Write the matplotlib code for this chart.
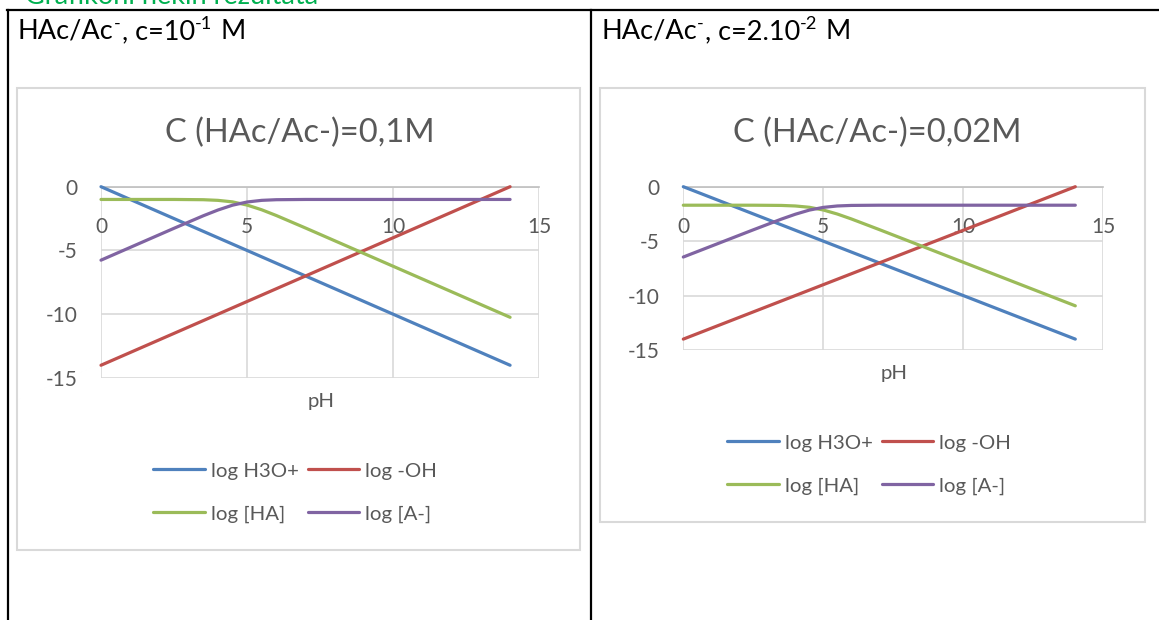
import matplotlib
matplotlib.use("Agg")
import matplotlib.pyplot as plt
from matplotlib import transforms
from matplotlib.patches import Rectangle
from matplotlib.lines import Line2D

# ---------------- data ----------------
ph = [0, 0.5, 1, 1.5, 2, 2.5, 3, 3.5, 4, 4.5, 5, 5.5, 6, 6.5, 7, 7.5,
      8, 8.5, 9, 9.5, 10, 10.5, 11, 11.5, 12, 12.5, 13, 13.5, 14]

log_h3o = [0, -0.5, -1, -1.5, -2, -2.5, -3, -3.5, -4, -4.5, -5, -5.5, -6, -6.5, -7,
           -7.5, -8, -8.5, -9, -9.5, -10, -10.5, -11, -11.5, -12, -12.5, -13, -13.5, -14]
log_oh = [-14, -13.5, -13, -12.5, -12, -11.5, -11, -10.5, -10, -9.5, -9, -8.5, -8, -7.5, -7,
          -6.5, -6, -5.5, -5, -4.5, -4, -3.5, -3, -2.5, -2, -1.5, -1, -0.5, 0]

# chart 1: c = 0.1 M
log_ha_1 = [-1.00, -1.00, -1.00, -1.00, -1.00, -1.00, -1.01, -1.02, -1.07, -1.19, -1.44,
            -1.81, -2.26, -2.75, -3.24, -3.74, -4.24, -4.74, -5.24, -5.74, -6.24, -6.74,
            -7.24, -7.74, -8.24, -8.74, -9.24, -9.74, -10.24]
log_a_1 = [-5.76, -5.26, -4.76, -4.26, -3.76, -3.26, -2.77, -2.28, -1.83, -1.45, -1.20,
           -1.07, -1.02, -1.01, -1.00, -1.00, -1.00, -1.00, -1.00, -1.00, -1.00, -1.00,
           -1.00, -1.00, -1.00, -1.00, -1.00, -1.00, -1.00]

# chart 2: c = 0.02 M
log_ha_2 = [-1.70, -1.70, -1.70, -1.70, -1.70, -1.70, -1.71, -1.72, -1.77, -1.89, -2.14,
            -2.51, -2.96, -3.45, -3.94, -4.44, -4.94, -5.44, -5.94, -6.44, -6.94, -7.44,
            -7.94, -8.44, -8.94, -9.44, -9.94, -10.44, -10.94]
log_a_2 = [-6.46, -5.96, -5.46, -4.96, -4.46, -3.96, -3.47, -2.98, -2.53, -2.15, -1.90,
           -1.77, -1.72, -1.71, -1.70, -1.70, -1.70, -1.70, -1.70, -1.70, -1.70, -1.70,
           -1.70, -1.70, -1.70, -1.70, -1.70, -1.70, -1.70]

series_labels = ["log H3O+", "log -OH", "log [HA]", "log [A-]"]
series_colors = ["#4F81BD", "#C0504D", "#9BBB59", "#8064A2"]

x_ticks = [0, 5, 10, 15]
x_tick_labels = ["0", "5", "10", "15"]
y_ticks = [0, -5, -10, -15]
y_tick_labels = ["0", "-5", "-10", "-15"]

titles = ["C (HAc/Ac-)=0,1M", "C (HAc/Ac-)=0,02M"]
# (text, is_superscript)
header_1 = [("HAc/Ac", False), ("-", True), (", c=10", False), ("-1", True), (" M", False)]
header_2 = [("HAc/Ac", False), ("-", True), (", c=2.10", False), ("-2", True), (" M", False)]
top_note = "Grafikoni nekih rezultata"
x_label = "pH"

# ---------------- style ----------------
plt.rcParams["font.family"] = ["Lato", "DejaVu Sans"]

W, H = 1159, 620
fig = plt.figure(figsize=(W / 100, H / 100), dpi=100)
fig.patch.set_facecolor("white")
renderer = fig.canvas.get_renderer()


def fx(px):
    return px / W


def fy(py):
    return 1 - py / H


TXT = "#595959"
GRID = "#D9D9D9"
TICK_FS = 15
LEG_FS = 14.7

# Word table lines
for xs, ys in [([7, W], [10, 10]), ([8, 8], [10, H]), ([591, 591], [10, H])]:
    fig.add_artist(Line2D([fx(x) for x in xs], [fy(y) for y in ys], color="black",
                          lw=1.6, transform=fig.transFigure))

# green heading at very top (cut off by the page edge as in the screenshot)
fig.text(fx(25), fy(-4), top_note, color="#00B050", fontsize=19.5,
         ha="left", va="center")


def draw_header(x_px, base_px, parts, size):
    x = x_px
    for txt, sup in parts:
        fs = size * 0.68 if sup else size
        yb = base_px - (10 if sup else 0)
        t = fig.text(fx(x), fy(yb), txt, fontsize=fs, color="black",
                     ha="left", va="baseline")
        x += t.get_window_extent(renderer).width + (1.5 if sup else 0)


draw_header(18, 39, header_1, 19.5)
draw_header(601, 39, header_2, 19.5)

charts = [
    dict(box=(17, 88, 580, 550), ax=(101, 186.7, 539.3, 378), title_xy=(299.5, 133),
         xlabel_xy=(321, 402), legend_xy=(153, 492.5), ha=log_ha_1, a=log_a_1),
    dict(box=(600, 88, 1145, 522), ax=(683.3, 186.7, 1103.3, 350), title_xy=(877, 133),
         xlabel_xy=(894, 373), legend_xy=(727, 464.5), ha=log_ha_2, a=log_a_2),
]

for i, ch in enumerate(charts):
    l, t, r, b = ch["box"]
    fig.add_artist(Rectangle((fx(l), fy(b)), (r - l) / W, (b - t) / H, fill=False,
                             ec=GRID, lw=1.5, transform=fig.transFigure))
    al, at, ar, ab = ch["ax"]
    ax = fig.add_axes([fx(al), fy(ab), (ar - al) / W, (ab - at) / H])
    ax.set_facecolor("none")
    ax.set_xlim(0, 15)
    ax.set_ylim(-15, 0)
    ax.set_xticks(x_ticks)
    ax.set_yticks(y_ticks)
    ax.set_yticklabels(y_tick_labels)
    ax.grid(True, color=GRID, lw=1.2)
    ax.set_axisbelow(True)
    for s in ["bottom", "left", "right"]:
        ax.spines[s].set_visible(False)
    ax.spines["top"].set_color("#BFBFBF")
    ax.spines["top"].set_linewidth(1.2)
    ax.tick_params(axis="x", length=0, labelbottom=False)
    ax.tick_params(axis="y", length=0, pad=17, labelsize=TICK_FS, labelcolor=TXT)

    off = transforms.offset_copy(ax.transData, fig=fig, x=0, y=-40, units="dots")
    for xv, lab in zip(x_ticks, x_tick_labels):
        ax.text(xv, 0, lab, transform=off, ha="center", va="center", fontsize=TICK_FS,
                color=TXT, zorder=1)

    ys = [log_h3o, log_oh, ch["ha"], ch["a"]]
    handles = []
    for yv, lab, col in zip(ys, series_labels, series_colors):
        ln, = ax.plot(ph, yv, color=col, lw=2.3, label=lab, solid_capstyle="round",
                      zorder=3, clip_on=False)
        handles.append(ln)

    fig.text(fx(ch["title_xy"][0]), fy(ch["title_xy"][1]), titles[i], fontsize=23.5,
             color=TXT, ha="center", va="center")
    fig.text(fx(ch["xlabel_xy"][0]), fy(ch["xlabel_xy"][1]), x_label, fontsize=LEG_FS,
             color=TXT, ha="center", va="center")

    order = [0, 2, 1, 3]
    ax.legend([handles[k] for k in order], [series_labels[k] for k in order],
              ncol=2, loc="center left",
              bbox_to_anchor=(fx(ch["legend_xy"][0]), fy(ch["legend_xy"][1])),
              bbox_transform=fig.transFigure, frameon=False, fontsize=LEG_FS,
              handlelength=2.54, handletextpad=0.29, columnspacing=0.44,
              labelspacing=1.26, borderpad=0, borderaxespad=0, labelcolor=TXT)

fig.savefig("out.png", dpi=100, facecolor="white")
